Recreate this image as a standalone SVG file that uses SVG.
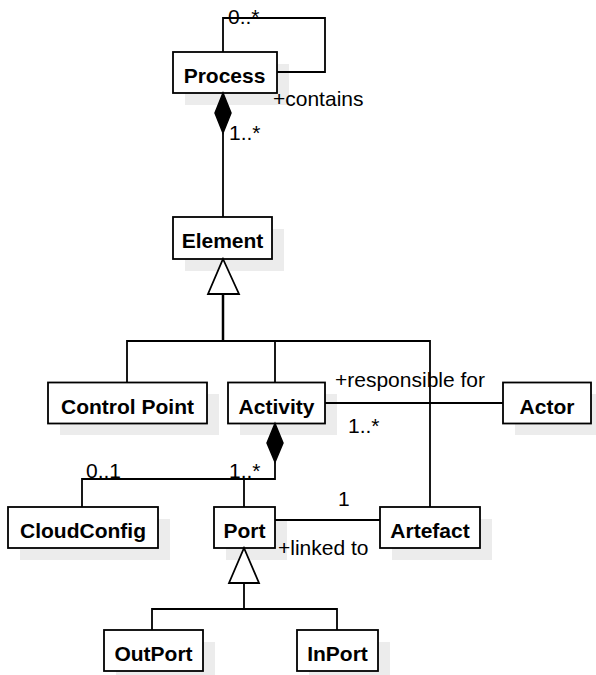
<svg xmlns="http://www.w3.org/2000/svg" width="596" height="675" viewBox="0 0 596 675">
<style>
.sh{fill:#ececec;stroke:none}
.box{fill:#fff;stroke:#000;stroke-width:1.8}
.nm{font-family:"Liberation Sans",Arial,sans-serif;font-weight:bold;font-size:21px;text-anchor:middle;fill:#000}
.ln{fill:none;stroke:#000;stroke-width:1.8}
.lb{font-family:"Liberation Sans",Arial,sans-serif;font-size:21px;fill:#000}
.dm{fill:#000;stroke:#000;stroke-width:1.5}
.tr{fill:#fff;stroke:#000;stroke-width:1.8}
</style>
<rect width="596" height="675" fill="#fff"/>
<g id="process"><rect class="sh" x="185" y="64" width="104" height="41"/><rect class="box" x="173" y="52" width="104" height="41"/><text class="nm" x="224.5" y="83">Process</text></g>
<g id="element"><rect class="sh" x="185" y="229" width="99" height="42"/><rect class="box" x="173" y="217" width="99" height="42"/><text class="nm" x="222.5" y="248">Element</text></g>
<g id="controlpoint"><rect class="sh" x="60" y="394" width="159" height="41"/><rect class="box" x="48" y="382.5" width="159" height="41"/><text class="nm" x="127.5" y="414">Control Point</text></g>
<g id="activity"><rect class="sh" x="240" y="394" width="97" height="41"/><rect class="box" x="228" y="382.5" width="97" height="41"/><text class="nm" x="276.5" y="414">Activity</text></g>
<g id="actor"><rect class="sh" x="515" y="394" width="88" height="41"/><rect class="box" x="503" y="382.5" width="88" height="41"/><text class="nm" x="547" y="414">Actor</text></g>
<g id="cloudconfig"><rect class="sh" x="20" y="519" width="150" height="41"/><rect class="box" x="8" y="507" width="150" height="41"/><text class="nm" x="83" y="537.5">CloudConfig</text></g>
<g id="port"><rect class="sh" x="226" y="519" width="61" height="41"/><rect class="box" x="214" y="507" width="61" height="41"/><text class="nm" x="244.5" y="537.5">Port</text></g>
<g id="artefact"><rect class="sh" x="392" y="519" width="100" height="41"/><rect class="box" x="380" y="507" width="100" height="41"/><text class="nm" x="430" y="537.5">Artefact</text></g>
<g id="outport"><rect class="sh" x="116" y="642" width="99" height="41"/><rect class="box" x="104" y="630" width="99" height="41"/><text class="nm" x="153.5" y="660.5">OutPort</text></g>
<g id="inport"><rect class="sh" x="309" y="642" width="81" height="41"/><rect class="box" x="297" y="630" width="81" height="41"/><text class="nm" x="337.5" y="660.5">InPort</text></g>
<g id="connectors">
<polyline class="ln" points="223,52 223,18 325,18 325,72 277,72"/>
<text class="lb" x="228" y="24">0..*</text>
<text class="lb" x="273" y="106">+contains</text>
<path class="dm" d="M223,93 L231,113 L223,133 L215,113 Z"/>
<line class="ln" x1="223" y1="133" x2="223" y2="217"/>
<text class="lb" x="229" y="140">1..*</text>
<path class="tr" d="M223,259 L239,294 L208,294 Z"/>
<line class="ln" x1="223" y1="294" x2="223" y2="341" style="stroke-width:2.5"/>
<polyline class="ln" points="127,382.5 127,341 430,341 430,507"/>
<line class="ln" x1="275" y1="341" x2="275" y2="382.5"/>
<line class="ln" x1="325" y1="403" x2="503" y2="403"/>
<text class="lb" x="335" y="387">+responsible for</text>
<text class="lb" x="348" y="433">1..*</text>
<path class="dm" d="M275,423.5 L283,443 L275,462 L267,443 Z"/>
<polyline class="ln" points="275,462 275,479 82,479 82,507"/>
<line class="ln" x1="244" y1="479" x2="244" y2="507"/>
<text class="lb" x="86" y="478">0..1</text>
<text class="lb" x="229" y="478">1..*</text>
<line class="ln" x1="275" y1="520" x2="380" y2="520"/>
<text class="lb" x="338" y="506">1</text>
<text class="lb" x="278" y="555">+linked to</text>
<path class="tr" d="M244,548 L259,583 L229,583 Z"/>
<polyline class="ln" points="244,583 244,609"/>
<polyline class="ln" points="152,630 152,609 337,609 337,630"/>
</g>
</svg>
